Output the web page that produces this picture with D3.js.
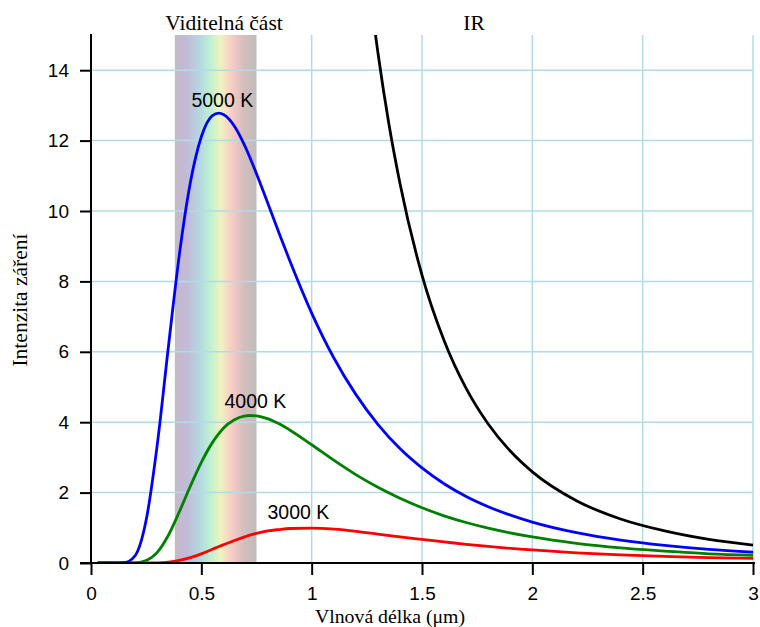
<!DOCTYPE html>
<html>
<head>
<meta charset="utf-8">
<script src="https://cdn.jsdelivr.net/npm/d3@7/dist/d3.min.js"></script>
<style>
  html, body { margin: 0; padding: 0; background: #fff; }
  svg { display: block; }
</style>
</head>
<body>
<svg id="chart" width="760" height="627"></svg>
<script>
// ---- data (intensity, wavelength in µm) ----
const wavelengths = [0.03, 0.1, 0.15, 0.2, 0.25, 0.3, 0.35, 0.4, 0.45, 0.5, 0.55, 0.58, 0.6, 0.65, 0.7, 0.72, 0.75, 0.8, 0.85, 0.9, 1.0, 1.1, 1.2, 1.3, 1.4, 1.5, 1.6, 1.7, 1.8, 2.0, 2.2, 2.4, 2.6, 2.8, 3.0];
const t5000 = [0, 0, 0.007, 0.21, 1.22, 3.35, 6.10, 8.74, 10.80, 12.11, 12.71, 12.78, 12.74, 12.41, 11.81, 11.52, 11.06, 10.24, 9.41, 8.60, 7.10, 5.83, 4.79, 3.94, 3.25, 2.70, 2.25, 1.89, 1.60, 1.16, 0.86, 0.65, 0.50, 0.39, 0.31];
const t4000 = [0, 0, 0, 0.006, 0.069, 0.30, 0.78, 1.45, 2.18, 2.86, 3.42, 3.68, 3.83, 4.07, 4.18, 4.19, 4.18, 4.10, 3.96, 3.78, 3.36, 2.92, 2.51, 2.15, 1.84, 1.57, 1.34, 1.15, 0.99, 0.74, 0.56, 0.43, 0.34, 0.26, 0.22];
const t3000 = [0, 0, 0, 0, 0.001, 0.006, 0.025, 0.072, 0.152, 0.26, 0.39, 0.47, 0.52, 0.64, 0.75, 0.79, 0.84, 0.91, 0.95, 0.98, 0.99, 0.96, 0.90, 0.82, 0.74, 0.67, 0.60, 0.53, 0.47, 0.37, 0.29, 0.23, 0.19, 0.15, 0.13];
const classicalWavelengths = [1.2, 1.25, 1.3, 1.35, 1.4, 1.5, 1.6, 1.7, 1.8, 1.9, 2.0, 2.2, 2.4, 2.6, 2.8, 3.0];
const classical5000 = [19.98, 16.97, 14.51, 12.47, 10.79, 8.18, 6.32, 4.96, 3.95, 3.18, 2.59, 1.77, 1.25, 0.91, 0.67, 0.51];
const xTicks = [0, 0.5, 1, 1.5, 2, 2.5, 3];
const xTickLabels = ["0", "0.5", "1", "1.5", "2", "2.5", "3"];
const yTicks = [0, 2, 4, 6, 8, 10, 12, 14];
const visibleRange = [0.38, 0.75];
const spectrumStops = [
  {o: 0.00, c: "#c1bdc1"}, {o: 0.06, c: "#c3b9cf"}, {o: 0.14, c: "#c2bad8"},
  {o: 0.30, c: "#b6d6e0"}, {o: 0.42, c: "#baf0d2"}, {o: 0.56, c: "#eef4c0"},
  {o: 0.70, c: "#f9cbc4"}, {o: 0.84, c: "#d4bebe"}, {o: 1.00, c: "#c0bcbc"}
];
const curveLabels = [
  {text: "5000 K", x: 0.595, y: 12.95},
  {text: "4000 K", x: 0.745, y: 4.4},
  {text: "3000 K", x: 0.94, y: 1.25}
];

// ---- layout ----
const svg = d3.select("#chart");
const mLeft = 91, mRight = 753, mTop = 35, mBottom = 563;
const x = d3.scaleLinear().domain([0, 3]).range([mLeft, mRight]);
const y = d3.scaleLinear().domain([0, 15]).range([mBottom, mTop]);

const defs = svg.append("defs");
const grad = defs.append("linearGradient").attr("id", "spectrum")
  .attr("x1", "0%").attr("x2", "100%").attr("y1", "0%").attr("y2", "0%");
grad.selectAll("stop").data(spectrumStops).join("stop")
  .attr("offset", d => d.o).attr("stop-color", d => d.c);
defs.append("clipPath").attr("id", "plotclip").append("rect")
  .attr("x", mLeft).attr("y", mTop).attr("width", mRight - mLeft + 2).attr("height", mBottom - mTop);

// visible band
svg.append("rect")
  .attr("x", x(visibleRange[0])).attr("y", mTop)
  .attr("width", x(visibleRange[1]) - x(visibleRange[0]))
  .attr("height", mBottom - mTop)
  .attr("fill", "url(#spectrum)");

// grid
const gridColor = "#b2dbe8";
svg.append("g").selectAll("line").data(xTicks.filter(d => d > 0)).join("line")
  .attr("x1", d => x(d)).attr("x2", d => x(d)).attr("y1", mTop).attr("y2", mBottom)
  .attr("stroke", gridColor).attr("stroke-width", 1.5);
svg.append("g").selectAll("line").data(yTicks.filter(d => d > 0)).join("line")
  .attr("x1", mLeft).attr("x2", mRight).attr("y1", d => y(d)).attr("y2", d => y(d))
  .attr("stroke", gridColor).attr("stroke-width", 1.5);

// curves
const plot = svg.append("g").attr("clip-path", "url(#plotclip)");
const line = d3.line().x(d => x(d[0])).y(d => y(d[1])).curve(d3.curveMonotoneX);
const series = [
  {xs: classicalWavelengths, ys: classical5000, color: "#000000"},
  {xs: wavelengths, ys: t3000, color: "#ff0000"},
  {xs: wavelengths, ys: t4000, color: "#008000"},
  {xs: wavelengths, ys: t5000, color: "#0000ff"}
];
series.forEach(s => {
  plot.append("path")
    .datum(s.xs.map((v, i) => [v, s.ys[i]]))
    .attr("d", line).attr("fill", "none")
    .attr("stroke", s.color).attr("stroke-width", 2.8)
    .attr("stroke-linejoin", "round");
});

// axes
const sans = "'Liberation Sans', Arial, sans-serif";
const xAxis = d3.axisBottom(x).tickValues(xTicks).tickFormat((d, i) => xTickLabels[i])
  .tickSize(12).tickSizeOuter(0).tickPadding(12);
const gx = svg.append("g").attr("transform", `translate(0,${mBottom})`).call(xAxis);
const yAxis = d3.axisLeft(y).tickValues(yTicks).tickSize(11).tickSizeOuter(0).tickPadding(11);
const gy = svg.append("g").attr("transform", `translate(${mLeft},0)`).call(yAxis);
[gx, gy].forEach(g => {
  g.select(".domain").attr("stroke", "#000").attr("stroke-width", 2);
  g.selectAll(".tick line").attr("stroke", "#000").attr("stroke-width", 2);
  g.selectAll(".tick text").attr("fill", "#000")
    .style("font-family", sans).style("font-size", "19px");
});
gx.select(".domain").attr("d", `M${mLeft - 11},0H${mRight + 2}`);
gy.select(".domain").attr("d", `M0,${mTop - 1}V${mBottom + 1}`);

// curve labels
svg.append("g").selectAll("text").data(curveLabels).join("text")
  .attr("x", d => x(d.x)).attr("y", d => y(d.y))
  .attr("text-anchor", "middle")
  .style("font-family", sans).style("font-size", "19.5px")
  .attr("fill", "#000").text(d => d.text);

// titles
const serif = "'Liberation Serif', 'Times New Roman', serif";
svg.append("text").attr("x", 224).attr("y", 30).attr("text-anchor", "middle")
  .style("font-family", serif).style("font-size", "21.5px").text("Viditelná část");
svg.append("text").attr("x", 474).attr("y", 30).attr("text-anchor", "middle")
  .style("font-family", serif).style("font-size", "21.5px").text("IR");
svg.append("text").attr("x", 390).attr("y", 622.5).attr("text-anchor", "middle")
  .style("font-family", serif).style("font-size", "19.8px").text("Vlnová délka (μm)");
svg.append("text").attr("transform", "translate(27,300) rotate(-90)").attr("text-anchor", "middle")
  .style("font-family", serif).style("font-size", "21.5px").text("Intenzita záření");
</script>
</body>
</html>
